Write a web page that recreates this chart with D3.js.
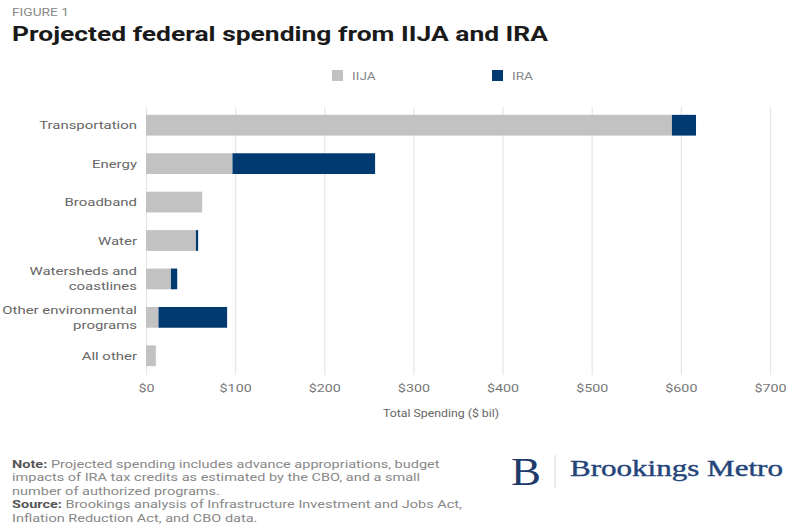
<!DOCTYPE html>
<html>
<head>
<meta charset="utf-8">
<script src="https://cdn.jsdelivr.net/npm/d3@7"></script>
<style>
  body { margin: 0; background: #fff; }
  svg { display: block; font-family: Roboto, "Liberation Sans", sans-serif; }
</style>
</head>
<body>
<svg id="chart" width="788" height="527"></svg>
<script>
const categories = ["Transportation", "Energy", "Broadband", "Water", "Watersheds and\ncoastlines", "Other environmental\nprograms", "All other"];
const iija = [590, 97, 63, 56, 28, 14, 11];
const ira = [27, 160, 0, 2.5, 7, 77, 0];
const seriesNames = ["IIJA", "IRA"];
const colors = ["#c2c2c2", "#003a70"];
const xTicks = [0, 100, 200, 300, 400, 500, 600, 700];

const width = 788, height = 527;
const margin = { top: 107, right: 18, bottom: 155, left: 146 };
const k = 1.3; // the original picture is stretched wide

const data = categories.map((c, i) => ({ cat: c, IIJA: iija[i], IRA: ira[i] }));
const stacked = d3.stack().keys(seriesNames)(data);

const x = d3.scaleLinear()
    .domain([0, 700])
    .range([margin.left, 770]);

const y = d3.scaleBand()
    .domain(categories)
    .range([106, 375])
    .paddingInner(0.46)
    .paddingOuter(0.23);

const svg = d3.select("#chart");

// text stretched horizontally around its anchor
function txt(parent, px, py, str, sx) {
    return parent.append("text")
        .attr("transform", `translate(${px},${py}) scale(${sx},1)`)
        .text(str);
}

// title
txt(svg, 12, 16, "FIGURE 1", 1.25).attr("font-size", 11).attr("fill", "#888");
svg.append("text").attr("x", 12).attr("y", 41)
    .attr("font-size", 21).attr("font-weight", "bold").attr("fill", "#1a1a1a")
    .attr("textLength", 536).attr("lengthAdjust", "spacingAndGlyphs")
    .text("Projected federal spending from IIJA and IRA");

// legend
const legend = svg.append("g").attr("font-size", 10.5).attr("fill", "#888");
const legendX = [332, 492];
seriesNames.forEach((s, i) => {
    legend.append("rect").attr("x", legendX[i]).attr("y", 70)
        .attr("width", 11).attr("height", 11).attr("fill", colors[i]);
    txt(legend, legendX[i] + 20, 79.5, s, k);
});

// grid + axis
const xAxis = g => g
    .attr("transform", `translate(0,${107})`)
    .call(d3.axisBottom(x).tickValues(xTicks).tickFormat(d => "$" + d).tickSize(268).tickPadding(9))
    .call(g => g.select(".domain").remove())
    .call(g => g.selectAll(".tick line").attr("stroke", "#e6e6e6").attr("stroke-width", 1.2))
    .call(g => g.selectAll(".tick text").attr("fill", "#777").attr("font-size", 11)
        .attr("font-family", "Roboto, sans-serif")
        .attr("transform", `scale(${k},1)`));

svg.append("g").call(xAxis);

txt(svg, 441, 417, "Total Spending ($ bil)", 1.12)
    .attr("text-anchor", "middle").attr("font-size", 11).attr("fill", "#666");

// bars
svg.append("g")
    .selectAll("g")
    .data(stacked)
    .join("g")
    .attr("fill", (d, i) => colors[i])
    .selectAll("rect")
    .data(d => d)
    .join("rect")
    .attr("x", d => x(d[0]))
    .attr("y", d => y(d.data.cat))
    .attr("width", d => x(d[1]) - x(d[0]))
    .attr("height", y.bandwidth());

// category labels
const labels = svg.append("g").attr("font-size", 11.5).attr("fill", "#666").attr("text-anchor", "end");
categories.forEach(c => {
    const lines = c.split("\n");
    const cy = y(c) + y.bandwidth() / 2;
    lines.forEach((l, j) => {
        txt(labels, 137, cy + (j - (lines.length - 1) / 2) * 15 + 4, l, k);
    });
});

// notes
const notes = svg.append("g").attr("font-size", 11).attr("fill", "#888");
const noteLines = [
    [["Note:", true], [" Projected spending includes advance appropriations, budget", false]],
    [["impacts of IRA tax credits as estimated by the CBO, and a small", false]],
    [["number of authorized programs.", false]],
    [["Source:", true], [" Brookings analysis of Infrastructure Investment and Jobs Act,", false]],
    [["Inflation Reduction Act, and CBO data.", false]]
];
noteLines.forEach((parts, i) => {
    const t = notes.append("text")
        .attr("transform", `translate(12,${467.5 + i * 13.6}) scale(1.32,1)`);
    parts.forEach(p => {
        t.append("tspan").attr("font-weight", p[1] ? "bold" : null)
            .attr("fill", p[1] ? "#555" : null).text(p[0]);
    });
});

// logo
svg.append("text").attr("x", 511).attr("y", 485)
    .attr("font-family", "'Liberation Serif', 'DejaVu Serif', serif")
    .attr("font-size", 39).attr("fill", "#1e3a6b")
    .attr("textLength", 30).attr("lengthAdjust", "spacingAndGlyphs").text("B");
svg.append("line").attr("x1", 555).attr("x2", 555).attr("y1", 455).attr("y2", 488)
    .attr("stroke", "#d8d8d8").attr("stroke-width", 1);
svg.append("text").attr("x", 570).attr("y", 476)
    .attr("font-family", "'Liberation Serif', 'DejaVu Serif', serif")
    .attr("font-size", 23).attr("fill", "#24457a")
    .attr("stroke", "#24457a").attr("stroke-width", 0.4)
    .attr("textLength", 213).attr("lengthAdjust", "spacingAndGlyphs").text("Brookings Metro");
</script>
</body>
</html>
